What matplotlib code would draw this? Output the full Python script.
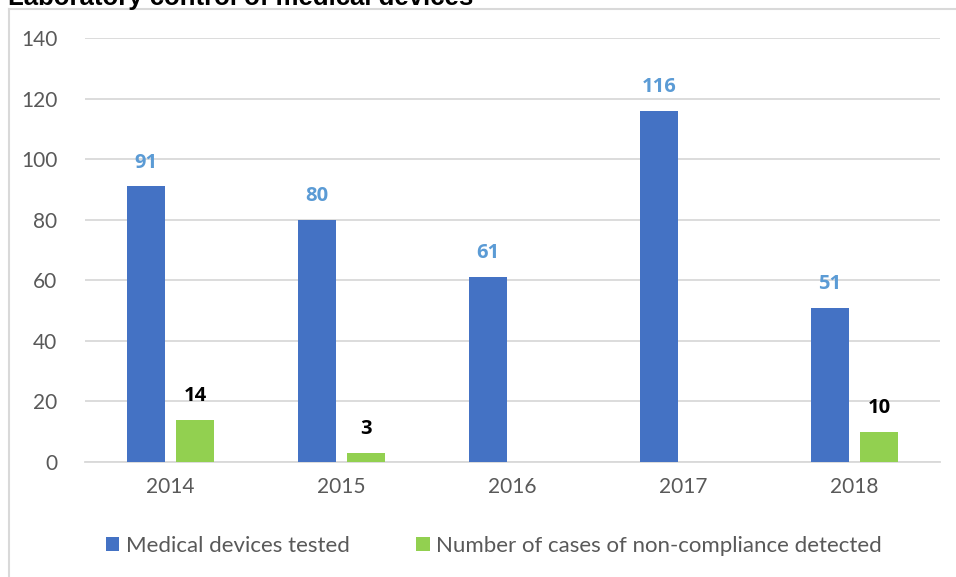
import matplotlib
matplotlib.use("Agg")
import matplotlib.pyplot as plt
import numpy as np

years = ["2014", "2015", "2016", "2017", "2018"]
tested = [91, 80, 61, 116, 51]
noncompliance = [14, 3, 0, 0, 10]
series_names = ["Medical devices tested", "Number of cases of non-compliance detected"]
title = "Laboratory control of medical devices"

W, H = 956, 577
fig = plt.figure(figsize=(W / 100, H / 100), dpi=100)
fig.patch.set_facecolor("white")

# outer frame (left and top visible)
fig.add_artist(plt.Line2D([9 / W, 9 / W], [0, 1 - 9 / H], color="#D9D9D9", lw=1.5, transform=fig.transFigure))
fig.add_artist(plt.Line2D([9 / W, 1], [1 - 9 / H, 1 - 9 / H], color="#D9D9D9", lw=1.5, transform=fig.transFigure))

fig.text(8 / W, 1 - 5 / H, title, fontsize=18.5, fontweight="bold", family="Liberation Sans",
         ha="left", va="baseline", color="black")

left, right, top, bottom = 85, 940, 38, 462
ax = fig.add_axes([left / W, 1 - bottom / H, (right - left) / W, (bottom - top) / H])

x = np.arange(len(years))
width = 0.222
off = 0.143
blue = "#4472C4"
green = "#92D050"
b1 = ax.bar(x - off, tested, width, color=blue, label=series_names[0], zorder=3)
b2 = ax.bar(x + off, noncompliance, width, color=green, label=series_names[1], zorder=3)

font = "Lato"
lab_font = "Open Sans"
for xi, v in zip(x, tested):
    ax.text(xi - off, v + 6.2, str(v), ha="center", va="baseline", fontsize=14.5, fontweight="bold",
            color="#5B9BD5", family=lab_font)
for xi, v in zip(x, noncompliance):
    if v:
        ax.text(xi + off, v + 6.2, str(v), ha="center", va="baseline", fontsize=14.5, fontweight="bold",
                color="black", family=lab_font)

ax.set_xlim(-0.5, len(years) - 0.5)
ax.set_ylim(0, 140)
ax.set_yticks(range(0, 141, 20))
ax.set_xticks(x)
ax.set_xticklabels(years)
ax.yaxis.grid(True, color="#D9D9D9", lw=1.3, zorder=0)
ax.set_axisbelow(True)
for s in ["top", "right", "left"]:
    ax.spines[s].set_visible(False)
ax.spines["bottom"].set_color("#D9D9D9")
ax.spines["bottom"].set_linewidth(1.3)
ax.tick_params(axis="both", length=0, labelsize=15, labelcolor="#595959")
ax.tick_params(axis="y", pad=20)
ax.tick_params(axis="x", pad=11)
for lab in ax.get_xticklabels() + ax.get_yticklabels():
    lab.set_family(font)

leg = fig.legend(handles=[b1, b2], labels=series_names, loc="center",
                 bbox_to_anchor=(494 / W, 1 - 546 / H), ncol=2, frameon=False,
                 prop={"family": font, "size": 16}, handlelength=0.6, handleheight=0.6,
                 handletextpad=0.3, columnspacing=3.0, labelcolor="#595959")

fig.savefig("out.png", dpi=100, facecolor="white")
